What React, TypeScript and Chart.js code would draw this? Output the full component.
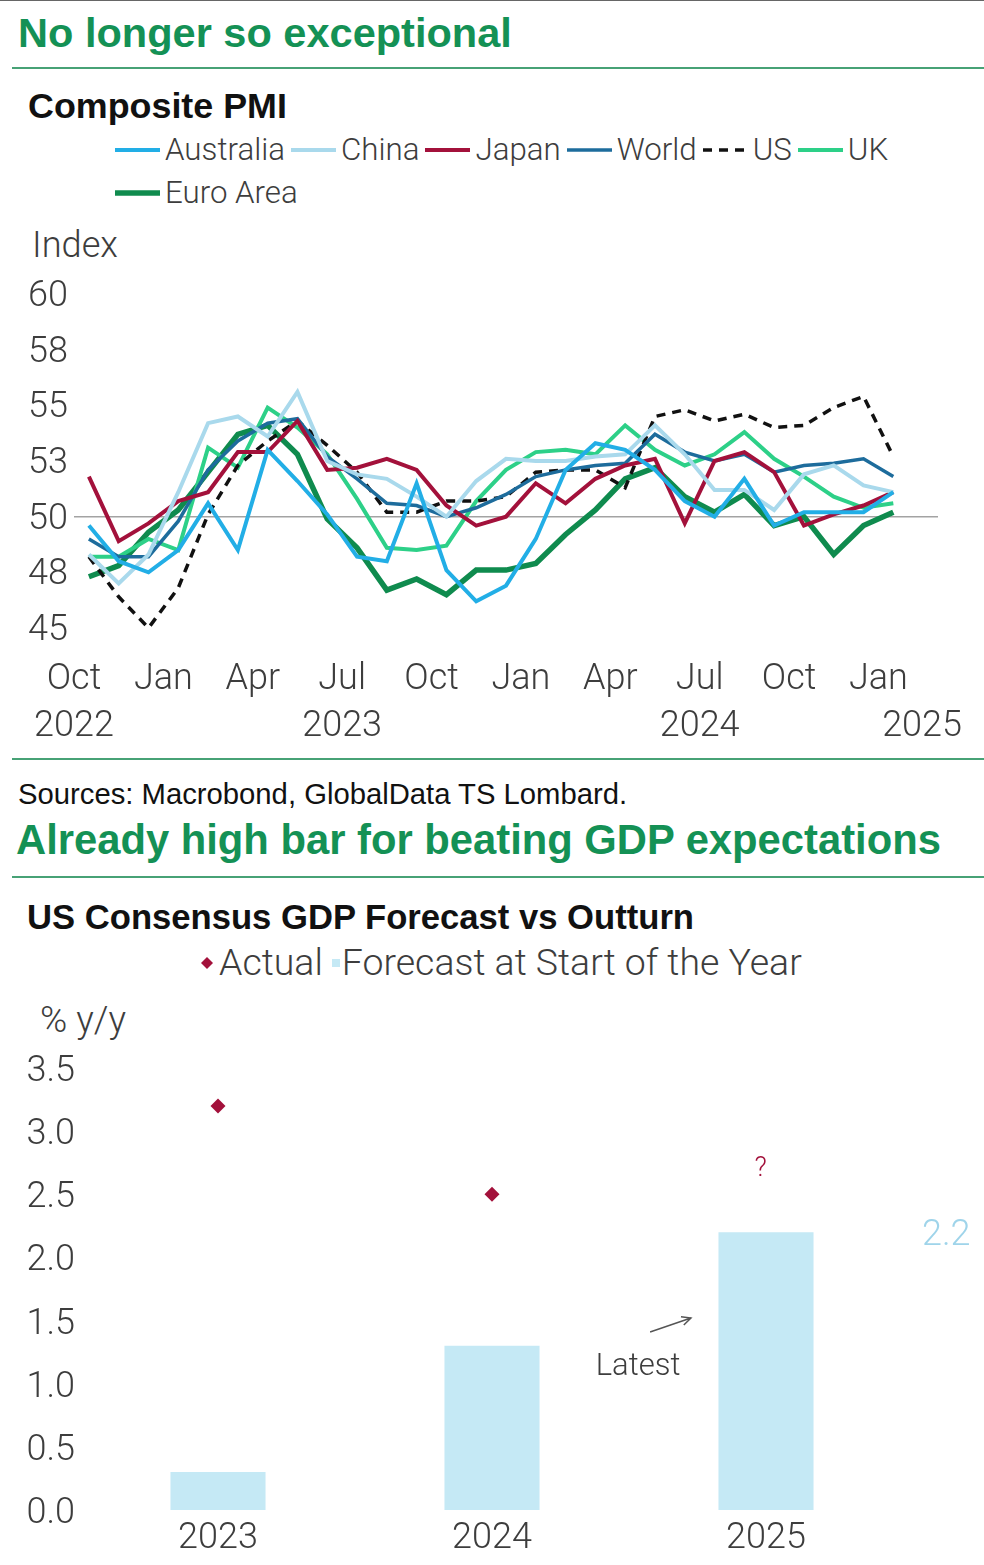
import React, { useEffect, useRef } from 'react';
import { Chart, registerables } from 'chart.js';

Chart.register(...registerables);

// ---------------- Chart 1: Composite PMI (monthly, Oct 2022 – Jan 2025) ----------------
const pmiMonths = [
  'Oct 2022', 'Nov 2022', 'Dec 2022', 'Jan 2023', 'Feb 2023', 'Mar 2023', 'Apr 2023',
  'May 2023', 'Jun 2023', 'Jul 2023', 'Aug 2023', 'Sep 2023', 'Oct 2023', 'Nov 2023',
  'Dec 2023', 'Jan 2024', 'Feb 2024', 'Mar 2024', 'Apr 2024', 'May 2024', 'Jun 2024',
  'Jul 2024', 'Aug 2024', 'Sep 2024', 'Oct 2024', 'Nov 2024', 'Dec 2024', 'Jan 2025',
];
const australia = [49.6, 48.0, 47.5, 48.5, 50.6, 48.5, 53.0, 51.6, 50.1, 48.2, 48.0, 51.5, 47.6, 46.2, 46.9, 49.0, 52.1, 53.3, 53.0, 52.1, 50.7, 50.0, 51.7, 49.6, 50.2, 50.2, 50.2, 51.1];
const china = [48.3, 47.0, 48.3, 51.1, 54.2, 54.5, 53.6, 55.6, 52.5, 51.9, 51.7, 50.9, 50.0, 51.6, 52.6, 52.5, 52.5, 52.7, 52.8, 54.1, 52.8, 51.2, 51.2, 50.3, 51.9, 52.3, 51.4, 51.1];
const japan = [51.8, 48.9, 49.7, 50.7, 51.1, 52.9, 52.9, 54.3, 52.1, 52.2, 52.6, 52.1, 50.5, 49.6, 50.0, 51.5, 50.6, 51.7, 52.3, 52.6, 49.7, 52.5, 52.9, 52.0, 49.6, 50.1, 50.5, 51.1];
const world = [49.0, 48.2, 48.2, 49.8, 52.1, 53.4, 54.2, 54.4, 52.7, 51.7, 50.6, 50.5, 50.0, 50.4, 51.0, 51.8, 52.1, 52.3, 52.4, 53.7, 52.9, 52.5, 52.8, 52.0, 52.3, 52.4, 52.6, 51.8];
const us = [48.2, 46.4, 45.0, 46.8, 50.1, 52.3, 53.4, 54.3, 53.2, 52.0, 50.2, 50.2, 50.7, 50.7, 50.9, 52.0, 52.1, 52.1, 51.3, 54.5, 54.8, 54.3, 54.6, 54.0, 54.1, 54.9, 55.4, 52.7];
const uk = [48.2, 48.2, 49.0, 48.5, 53.1, 52.2, 54.9, 54.0, 52.8, 50.8, 48.6, 48.5, 48.7, 50.7, 52.1, 52.9, 53.0, 52.8, 54.1, 53.0, 52.3, 52.8, 53.8, 52.6, 51.8, 50.9, 50.4, 50.6];
const euroArea = [47.3, 47.8, 49.3, 50.3, 52.0, 53.7, 54.1, 52.8, 49.9, 48.6, 46.7, 47.2, 46.5, 47.6, 47.6, 47.9, 49.2, 50.3, 51.7, 52.2, 50.9, 50.2, 51.0, 49.6, 50.0, 48.3, 49.6, 50.2];

const seriesNames = ['Australia', 'China', 'Japan', 'World', 'US', 'UK', 'Euro Area'];
const seriesValues = [australia, china, japan, world, us, uk, euroArea];

const pmiYMin = 45;
const pmiYMax = 60;
const pmiYStep = 2.5;
const pmiRefLine = 50;
const pmiAxisMonths = 29;
const xTickMonthIdx = [0, 3, 6, 9, 12, 15, 18, 21, 24, 27];
const xTickLabels = ['Oct', 'Jan', 'Apr', 'Jul', 'Oct', 'Jan', 'Apr', 'Jul', 'Oct', 'Jan'];
const yearLabels = ['2022', '2023', '2024', '2025'];
const yearLabelMonthIdx = [0, 9, 21, 33];

// ---------------- Chart 2: US consensus GDP forecast vs outturn ----------------
const gdpYears = ['2023', '2024', '2025'];
const gdpForecast = [0.3, 1.3, 2.2];
const gdpActual: (number | null)[] = [3.2, 2.5, null];
const gdpYMin = 0;
const gdpYMax = 3.5;
const gdpYStep = 0.5;
const unknownActual = { text: '?', idx: 1.98, value: 2.72 };
const latestNote = { text: 'Latest', idx: 1.533, value: 1.16 };
const latestArrow = { fromIdx: 1.577, fromValue: 1.41, toIdx: 1.726, toValue: 1.52 };

// ---------------- styles ----------------
const seriesColors = ['#22aee6', '#a9d9ec', '#a3113b', '#1d6c9c', '#111111', '#2dd088', '#0f8b4e'];
const seriesWidths = [4, 4, 4, 3.5, 3.5, 4, 5.5];
const seriesDashes: number[][] = [[], [], [], [], [9, 7], [], []];

const GREEN = '#149155';
const RULE = '#47a276';
const TEXT = '#3d3d3d';
const CRIMSON = '#a3113b';
const BAR = '#c5e9f5';
const BAR_LABEL = '#9fd4ea';
const HEAD = "'Liberation Sans', Arial, sans-serif";
const BODY = 'Roboto, sans-serif';
const tickFont = { family: 'Roboto', size: 36, weight: 300 as any };
const CAP = 0.711; // Roboto cap-height ratio

let measureCtx: CanvasRenderingContext2D | null = null;
function fitSize(text: string, family: string, weight: number, target: number) {
  if (!measureCtx) measureCtx = document.createElement('canvas').getContext('2d');
  measureCtx!.font = `${weight} 100px ${family}`;
  return (100 * target) / measureCtx!.measureText(text).width;
}

// draw text whose capital letters are vertically centred on cy
function capText(ctx: CanvasRenderingContext2D, text: string, x: number, cy: number, size: number) {
  ctx.textBaseline = 'alphabetic';
  ctx.fillText(text, x, cy + (size * CAP) / 2);
}

function Label(props: {
  text: string; x: number; cy: number; width?: number; size?: number;
  family: string; weight: number; color: string;
}) {
  const { text, x, cy, width, family, weight, color } = props;
  const size = width ? fitSize(text, family, weight, width) : props.size || 30;
  return (
    <div
      style={{
        position: 'absolute', left: x, top: cy - size / 2, fontSize: size,
        lineHeight: `${size}px`, fontFamily: family, fontWeight: weight, color,
        whiteSpace: 'nowrap',
      }}
    >
      {text}
    </div>
  );
}

function Rule({ y }: { y: number }) {
  return <div style={{ position: 'absolute', left: 12, top: y - 1, width: 972, height: 2, background: RULE }} />;
}

function PmiLegend() {
  const size = fitSize('Australia', BODY, 300, 120);
  const rows = [seriesNames.slice(0, 6), seriesNames.slice(6)];
  const rowCy = [150, 193];
  return (
    <>
      {rows.map((row, r) => (
        <div
          key={r}
          style={{
            position: 'absolute', left: 115, top: rowCy[r] - 20, height: 40,
            display: 'flex', alignItems: 'center', whiteSpace: 'nowrap',
          }}
        >
          {row.map((name) => {
            const k = seriesNames.indexOf(name);
            return (
              <div key={name} style={{ display: 'flex', alignItems: 'center', marginRight: 6 }}>
                <svg width={45} height={12} style={{ display: 'block', marginRight: 5 }}>
                  <line
                    x1={0} y1={6} x2={45} y2={6} stroke={seriesColors[k]}
                    strokeWidth={seriesWidths[k]}
                    strokeDasharray={seriesDashes[k].length ? seriesDashes[k].join(' ') : undefined}
                  />
                </svg>
                <span style={{ fontFamily: BODY, fontWeight: 300, fontSize: size, lineHeight: `${size}px`, color: TEXT }}>
                  {name}
                </span>
              </div>
            );
          })}
        </div>
      ))}
    </>
  );
}

function GdpLegend() {
  const size = fitSize('Forecast at Start of the Year', BODY, 300, 460);
  const txt = { fontFamily: BODY, fontWeight: 300, fontSize: size, lineHeight: `${size}px`, color: TEXT };
  return (
    <div style={{ position: 'absolute', left: 201, top: 963 - 20, height: 40, display: 'flex', alignItems: 'center', whiteSpace: 'nowrap' }}>
      <svg width={12} height={12} style={{ display: 'block', marginRight: 6 }}>
        <polygon points="6,0 12,6 6,12 0,6" fill={CRIMSON} />
      </svg>
      <span style={txt}>Actual</span>
      <svg width={8} height={8} style={{ display: 'block', marginLeft: 9, marginRight: 2 }}>
        <rect x={0} y={0} width={8} height={8} fill={BAR} />
      </svg>
      <span style={txt}>Forecast at Start of the Year</span>
    </div>
  );
}

const yearRowPlugin = {
  id: 'yearRow',
  afterDraw(chart: any) {
    const { ctx, chartArea } = chart;
    const xs = chart.scales.x;
    ctx.save();
    ctx.font = `300 36px Roboto`;
    ctx.fillStyle = TEXT;
    ctx.textAlign = 'center';
    yearLabels.forEach((t, i) => {
      const w = ctx.measureText(t).width;
      let px = xs.getPixelForValue(yearLabelMonthIdx[i]);
      px = Math.min(px, chart.width - 22 - w / 2);
      capText(ctx, t, px, chartArea.bottom + 95, 36);
    });
    ctx.restore();
  },
};

function PmiChart() {
  const ref = useRef<HTMLCanvasElement>(null);
  useEffect(() => {
    const datasets = seriesNames.map((name, k) => ({
      label: name,
      data: seriesValues[k].map((v, i) => ({ x: i + 0.5, y: v })),
      borderColor: seriesColors[k],
      backgroundColor: seriesColors[k],
      borderWidth: seriesWidths[k],
      borderDash: seriesDashes[k],
      pointRadius: 0,
      tension: 0,
      fill: false,
    }));
    const chart = new Chart(ref.current!, {
      type: 'line',
      data: { datasets },
      options: {
        responsive: false,
        animation: false,
        layout: { padding: { top: 34, right: 46, bottom: 0, left: 0 } },
        plugins: { legend: { display: false }, tooltip: { enabled: false } },
        scales: {
          x: {
            type: 'linear',
            min: 0,
            max: pmiAxisMonths,
            afterBuildTicks: (s: any) => {
              s.ticks = xTickMonthIdx.map((v) => ({ value: v }));
            },
            ticks: {
              autoSkip: false,
              maxRotation: 0,
              padding: 30,
              font: tickFont,
              color: TEXT,
              callback: (_v: any, i: number) => xTickLabels[i],
            },
            grid: { display: false, drawTicks: false },
            border: { display: false },
            afterFit: (s: any) => {
              s.height = 122;
            },
          },
          y: {
            min: pmiYMin,
            max: pmiYMax,
            ticks: {
              stepSize: pmiYStep,
              padding: 6,
              labelOffset: 3,
              font: tickFont,
              color: TEXT,
              callback: (v: any) => String(Math.round(Number(v))),
            },
            grid: {
              drawTicks: false,
              lineWidth: 1.5,
              color: (c: any) => (c.tick && c.tick.value === pmiRefLine ? '#a3a3a3' : 'rgba(0,0,0,0)'),
            },
            border: { display: false },
            afterFit: (s: any) => {
              s.width = 74;
            },
          },
        },
      },
      plugins: [yearRowPlugin],
    } as any);
    return () => chart.destroy();
  }, []);
  return <canvas ref={ref} width={984} height={490} style={{ position: 'absolute', left: 0, top: 260, display: 'block' }} />;
}

const gdpNotesPlugin = {
  id: 'gdpNotes',
  afterDatasetsDraw(chart: any) {
    const { ctx, chartArea } = chart;
    const x = chart.scales.x;
    const y = chart.scales.y;
    ctx.save();
    // latest forecast value label
    const last = gdpForecast.length - 1;
    ctx.font = '300 36px Roboto';
    ctx.fillStyle = BAR_LABEL;
    ctx.textAlign = 'left';
    capText(ctx, gdpForecast[last].toFixed(1), chartArea.right + 19, y.getPixelForValue(gdpForecast[last]), 36);
    // unknown actual
    ctx.font = '300 27px Roboto';
    ctx.fillStyle = CRIMSON;
    ctx.textAlign = 'center';
    capText(ctx, unknownActual.text, x.getPixelForValue(unknownActual.idx), y.getPixelForValue(unknownActual.value), 27);
    // Latest note
    ctx.font = '300 31px Roboto';
    ctx.fillStyle = TEXT;
    capText(ctx, latestNote.text, x.getPixelForValue(latestNote.idx), y.getPixelForValue(latestNote.value), 31);
    // arrow
    const x0 = x.getPixelForValue(latestArrow.fromIdx);
    const y0 = y.getPixelForValue(latestArrow.fromValue);
    const x1 = x.getPixelForValue(latestArrow.toIdx);
    const y1 = y.getPixelForValue(latestArrow.toValue);
    const ang = Math.atan2(y1 - y0, x1 - x0);
    ctx.strokeStyle = '#555';
    ctx.lineWidth = 1.5;
    ctx.beginPath();
    ctx.moveTo(x0, y0);
    ctx.lineTo(x1, y1);
    ctx.moveTo(x1 - 10 * Math.cos(ang - 0.45), y1 - 10 * Math.sin(ang - 0.45));
    ctx.lineTo(x1, y1);
    ctx.lineTo(x1 - 10 * Math.cos(ang + 0.45), y1 - 10 * Math.sin(ang + 0.45));
    ctx.stroke();
    ctx.restore();
  },
};

function GdpChart() {
  const ref = useRef<HTMLCanvasElement>(null);
  useEffect(() => {
    const chart = new Chart(ref.current!, {
      type: 'bar',
      data: {
        labels: gdpYears,
        datasets: [
          {
            type: 'line',
            label: 'Actual',
            data: gdpActual,
            showLine: false,
            pointStyle: 'rectRot',
            pointRadius: 7.5,
            pointBackgroundColor: CRIMSON,
            pointBorderWidth: 0,
            borderColor: CRIMSON,
            order: 0,
          },
          {
            type: 'bar',
            label: 'Forecast at Start of the Year',
            data: gdpForecast,
            backgroundColor: BAR,
            categoryPercentage: 1,
            barPercentage: 0.347,
            order: 1,
          },
        ],
      },
      options: {
        responsive: false,
        animation: false,
        layout: { padding: { top: 28, right: 81, bottom: 0, left: 0 } },
        plugins: { legend: { display: false }, tooltip: { enabled: false } },
        scales: {
          x: {
            grid: { display: false, drawTicks: false },
            border: { display: false },
            ticks: { font: tickFont, color: TEXT, padding: 7, maxRotation: 0 },
            afterFit: (s: any) => {
              s.height = 55;
            },
          },
          y: {
            min: gdpYMin,
            max: gdpYMax,
            ticks: {
              stepSize: gdpYStep,
              padding: 6,
              labelOffset: 4,
              font: tickFont,
              color: TEXT,
              callback: (v: any) => Number(v).toFixed(1),
            },
            grid: { display: false, drawTicks: false },
            border: { display: false },
            afterFit: (s: any) => {
              s.width = 81;
            },
          },
        },
      },
      plugins: [gdpNotesPlugin],
    } as any);
    return () => chart.destroy();
  }, []);
  return <canvas ref={ref} width={984} height={525} style={{ position: 'absolute', left: 0, top: 1040, display: 'block' }} />;
}

export default function App() {
  return (
    <div style={{ position: 'absolute', left: 0, top: 0, width: 984, height: 1565, background: '#fff', overflow: 'hidden' }}>
      <div style={{ position: 'absolute', left: 0, top: 0, width: 984, height: 1, background: '#666' }} />
      <Label text="No longer so exceptional" x={18} cy={33} width={494} family={HEAD} weight={700} color={GREEN} />
      <Rule y={68} />
      <Label text="Composite PMI" x={28} cy={107} width={259} family={HEAD} weight={700} color="#111" />
      <PmiLegend />
      <Label text="Index" x={32} cy={245} width={86} family={BODY} weight={300} color={TEXT} />
      <PmiChart />
      <Rule y={759} />
      <Label text="Sources: Macrobond, GlobalData TS Lombard." x={18} cy={795} width={610} family={HEAD} weight={400} color="#111" />
      <Label text="Already high bar for beating GDP expectations" x={16} cy={840} width={926} family={HEAD} weight={700} color={GREEN} />
      <Rule y={877} />
      <Label text="US Consensus GDP Forecast vs Outturn" x={27} cy={917} width={668} family={HEAD} weight={700} color="#111" />
      <GdpLegend />
      <Label text="% y/y" x={40} cy={1020} width={86} family={BODY} weight={300} color={TEXT} />
      <GdpChart />
    </div>
  );
}
